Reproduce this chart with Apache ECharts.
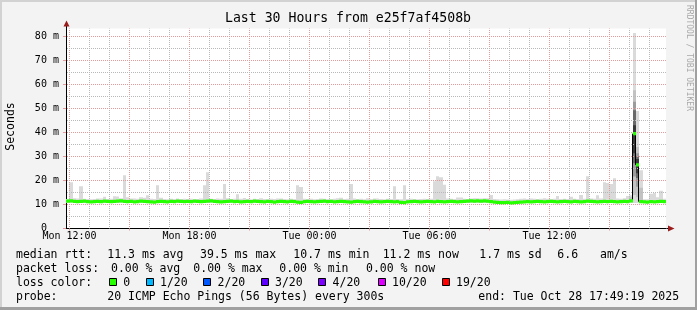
<!DOCTYPE html>
<html><head><meta charset="utf-8">
<script src="https://cdn.jsdelivr.net/npm/echarts@6/dist/echarts.min.js"></script>
<style>html,body{margin:0;padding:0;background:#f3f3f3;}#c{width:697px;height:310px;}</style>
</head><body><div id="c"></div>
<script>
const TITLE = 'Last 30 Hours from e25f7af4508b';
const Y_TITLE = 'Seconds';
const WATERMARK = 'RRDTOOL / TOBI OETIKER';
const START_MIN = 709.3167;           // Mon 11:49:19, minutes after Mon 00:00
const SPAN_MIN = 1800;                // 30 hours
const BIN_MIN = 10;                   // one value per 10 minutes
const Y_MAX = 83.333;
const X_LABEL_VALUES = [720, 1080, 1440, 1800, 2160];
const X_LABELS = ['Mon 12:00', 'Mon 18:00', 'Tue 00:00', 'Tue 06:00', 'Tue 12:00'];
const Y_TICKS = [0, 10, 20, 30, 40, 50, 60, 70, 80];
const Y_MINOR = [5, 15, 25, 35, 45, 55, 65, 75];

// median rtt (ms), one per 10-minute bin, 180 bins
const MEDIAN_MS = [
  11.4, 11.5, 11.3, 11.2, 11.3, 11.4, 11.2, 11.1, 11.2, 11.3, 11.2, 11.4, 11.3, 11.2, 11.3, 11.4, 11.5, 11.3,
  11.2, 11.3, 11.1, 11.2, 11.4, 11.3, 11.2, 11.1, 11.0, 11.2, 11.3, 11.2, 11.1, 11.3, 11.2, 11.4, 11.3, 11.2,
  11.3, 11.2, 11.4, 11.3, 11.2, 11.3, 11.4, 11.5, 11.3, 11.2, 11.1, 11.2, 11.3, 11.4, 11.2, 11.3, 11.1, 11.2,
  11.3, 11.2, 11.4, 11.3, 11.2, 11.1, 11.3, 11.2, 11.0, 11.2, 11.3, 11.2, 11.1, 11.3, 11.2, 11.0, 10.9, 11.2,
  11.3, 11.2, 11.1, 11.2, 11.3, 11.4, 11.2, 11.3, 11.1, 11.2, 11.3, 11.2, 11.1, 11.0, 11.2, 11.3, 11.2, 11.1,
  11.0, 11.1, 11.3, 11.2, 11.1, 11.2, 11.3, 11.2, 11.1, 11.2, 10.9, 10.8, 11.1, 11.2, 11.3, 11.2, 11.1, 11.2,
  11.3, 11.2, 11.1, 11.3, 11.2, 11.1, 11.2, 11.3, 11.2, 11.1, 11.2, 11.3, 11.4, 11.5, 11.4, 11.5, 11.4, 11.5,
  11.4, 11.2, 11.0, 10.9, 10.8, 10.8, 10.9, 10.7, 10.8, 10.9, 11.0, 11.1, 11.2, 11.1, 11.2, 11.3, 11.2, 11.1,
  11.2, 11.3, 11.2, 11.1, 11.2, 11.3, 11.2, 11.1, 11.3, 11.2, 11.1, 11.2, 11.4, 11.3, 11.2, 11.1, 11.2, 11.3,
  11.2, 11.3, 11.2, 11.1, 11.2, 11.3, 11.2, 11.5, 39.5, 26.5, 11.2, 11.1, 11.0, 11.2, 11.1, 11.2, 11.3, 11.2
];
// highest ping (ms) in each bin (top of the smoke)
const SMOKE_MAX_MS = [
  12.3, 19.3, 12.6, 12.5, 17.6, 12.4, 12.3, 12.2, 12.3, 12.5, 12.5, 13.2, 12.3, 12.4, 13.4, 13.3, 12.6, 22.2,
  13.0, 12.5, 12.5, 12.4, 13.0, 12.8, 13.9, 12.4, 12.3, 18.0, 12.8, 12.3, 12.2, 12.4, 12.3, 12.5, 12.3, 12.4,
  12.3, 12.4, 12.2, 12.3, 12.5, 18.0, 23.4, 12.4, 12.3, 12.5, 12.4, 18.5, 12.6, 12.3, 12.4, 14.3, 12.4, 12.7,
  12.3, 12.2, 12.4, 12.3, 12.6, 12.3, 12.2, 12.4, 12.3, 12.5, 12.5, 12.3, 12.2, 12.4, 12.3, 18.0, 17.3, 12.4,
  12.3, 12.4, 12.2, 12.3, 12.5, 12.4, 12.3, 12.2, 12.4, 12.6, 12.8, 12.3, 12.4, 18.5, 12.5, 12.3, 12.4, 12.2,
  12.6, 12.3, 12.5, 12.5, 12.3, 12.2, 12.4, 12.3, 17.6, 12.3, 12.2, 18.0, 12.3, 12.4, 12.3, 12.2, 12.3, 12.4,
  12.3, 12.4, 19.7, 21.8, 21.4, 18.2, 12.5, 12.4, 12.3, 12.9, 12.9, 12.4, 12.3, 12.5, 12.6, 12.6, 12.5, 12.6,
  12.6, 14.0, 12.3, 12.2, 12.1, 12.2, 12.1, 12.0, 12.1, 12.2, 12.4, 12.5, 12.3, 12.5, 12.4, 12.3, 12.4, 12.6,
  12.4, 12.3, 12.4, 13.5, 12.3, 12.4, 12.3, 13.2, 12.4, 12.3, 14.0, 12.4, 21.8, 12.5, 12.4, 13.9, 12.5, 19.3,
  19.0, 18.5, 20.9, 12.5, 12.4, 12.6, 13.5, 13.9, 81.5, 49.0, 24.3, 12.2, 12.2, 14.5, 14.8, 13.0, 15.7, 12.4
];
const SMOKE_FLOOR_MS = 10.6;
// denser smoke layers (outer -> inner) for the bins around the spike
const SMOKE_LAYER_BINS = [169, 170, 171, 172];
const SMOKE_LAYER_BANDS = [
  [[11.2, 13.0]],
  [[14.0, 57.6], [21.7, 52.8], [27.2, 49.3], [31.4, 43.0]],
  [[13.0, 34.0], [17.4, 31.4], [21.0, 30.0], [23.0, 29.0]],
  [[11.5, 17.0]]
];
const LAYER_COLORS = ['#c2c2c2', '#9c9c9c', '#6a6a6a', '#383838'];

const RTT_STATS = ['11.3 ms avg', '39.5 ms max', '10.7 ms min', '11.2 ms now', '1.7 ms sd', '6.6', 'am/s'];
const LOSS_STATS = ['0.00 % avg', '0.00 % max', '0.00 % min', '0.00 % now'];
const LOSS_LABELS = ['0', '1/20', '2/20', '3/20', '4/20', '10/20', '19/20'];
const LOSS_COLORS = ['#26ff00', '#00b8ff', '#0059ff', '#5e00ff', '#7e00ff', '#dd00ff', '#ff0000'];
const PROBE_TEXT = '20 ICMP Echo Pings (56 Bytes) every 300s';
const END_TEXT = 'end: Tue Oct 28 17:49:19 2025';

// ---- layout / style ----
const FONT = 'DejaVu Sans Mono';
const GL = 65.94, GT = 28.5, GW = 600, GH = 200;
const GRID_GRAY = '#b8b8b8', GRID_RED = '#e39a9a', ARROW = '#9a1c1c';
const RTT_X = [107.3, 200, 293.3, 382.7, 479.3, 557.3, 600];
const LOSS_X = [111, 193.3, 279.3, 366];
const BOX_X = [109, 145.7, 203.3, 260.7, 318.3, 377.7, 441.7];
const ROW_Y = [254.8, 268.9, 282.8, 296.9];
const LEG_FS = 11.5;

// ---- derived tables ----
const smokeData = SMOKE_MAX_MS.map((hi, i) => [START_MIN + i * BIN_MIN, SMOKE_FLOOR_MS, hi]);
const layerData = [];
SMOKE_LAYER_BINS.forEach((b, k) => SMOKE_LAYER_BANDS[k].forEach((band, L) =>
  layerData.push([START_MIN + b * BIN_MIN, band[0], band[1], L])));
const medianData = MEDIAN_MS.map((m, i) => [START_MIN + i * BIN_MIN, m]);
const stepData = MEDIAN_MS.slice(1).map((m, i) => [START_MIN + (i + 1) * BIN_MIN, MEDIAN_MS[i], m]);

const hourLines = [];
for (let t = 720; t < START_MIN + SPAN_MIN; t += 60) hourLines.push(t);
const redHours = hourLines.filter(t => t % 180 === 0);

function rectRender(getFill) {
  return function (params, api) {
    const t = api.value(0), lo = api.value(1), hi = api.value(2);
    const a = api.coord([t, lo]), b = api.coord([t + BIN_MIN, hi]);
    const x0 = Math.round(a[0]), x1 = Math.round(b[0]);
    return { type: 'rect', shape: { x: x0, y: b[1], width: x1 - x0, height: a[1] - b[1] },
      style: { fill: getFill(api) } };
  };
}

const V_OFF = 0.5, H_OFF = GL % 1;
const markData = [];
hourLines.forEach(t => markData.push({ xAxis: t, lineStyle: { color: t % 180 === 0 ? GRID_RED : GRID_GRAY, type: [1, 1], dashOffset: V_OFF, width: 1 } }));
Y_MINOR.forEach(v => markData.push({ yAxis: v, lineStyle: { color: GRID_GRAY, type: [1, 1], dashOffset: H_OFF, width: 1 } }));
Y_TICKS.slice(1).forEach(v => markData.push({ yAxis: v, lineStyle: { color: GRID_RED, type: [1, 1], dashOffset: H_OFF, width: 1 } }));

function txt(x, y, s, extra) {
  return Object.assign({ type: 'text', x: x, y: y, z: 50,
    style: Object.assign({ text: s, fontFamily: FONT, fontSize: LEG_FS, fill: '#000', verticalAlign: 'middle', align: 'left' }, extra || {}) });
}
const graphic = [
  { type: 'rect', shape: { x: 0, y: 0, width: 697, height: 2 }, style: { fill: '#d2d2d2' }, z: 40 },
  { type: 'rect', shape: { x: 0, y: 0, width: 2, height: 310 }, style: { fill: '#d2d2d2' }, z: 40 },
  { type: 'rect', shape: { x: 0, y: 307, width: 697, height: 3 }, style: { fill: '#a0a0a0' }, z: 41 },
  { type: 'rect', shape: { x: 695, y: 0, width: 2, height: 310 }, style: { fill: '#a0a0a0' }, z: 41 },
  txt(348, 19, TITLE, { fontSize: 13.2, align: 'center' }),
  { type: 'text', x: 11, y: 126.5, rotation: Math.PI / 2, z: 50,
    style: { text: Y_TITLE, fontFamily: FONT, fontSize: 11.5, fill: '#000', align: 'center', verticalAlign: 'middle' } },
  { type: 'text', x: 689, y: 58, rotation: -Math.PI / 2, z: 50,
    style: { text: WATERMARK, fontFamily: FONT, fontSize: 8, fill: '#a8a8a8', align: 'center', verticalAlign: 'middle' } },
  // axis extensions and arrows
  { type: 'line', shape: { x1: 666.5, y1: 228.5, x2: 669, y2: 228.5 }, style: { stroke: '#000', lineWidth: 1 }, z: 45 },
  { type: 'polygon', shape: { points: [[668, 225.5], [668, 231.5], [674.5, 228.5]] }, style: { fill: ARROW }, z: 46 },
  { type: 'line', shape: { x1: 66.5, y1: 28.5, x2: 66.5, y2: 25 }, style: { stroke: '#000', lineWidth: 1 }, z: 45 },
  { type: 'polygon', shape: { points: [[63.5, 26.5], [69.5, 26.5], [66.5, 20.5]] }, style: { fill: ARROW }, z: 46 },
  // legend
  txt(16, ROW_Y[0], 'median rtt:'),
  txt(16, ROW_Y[1], 'packet loss:'),
  txt(16, ROW_Y[2], 'loss color:'),
  txt(16, ROW_Y[3], 'probe:'),
  txt(107.3, ROW_Y[3], PROBE_TEXT),
  txt(478.3, ROW_Y[3], END_TEXT)
];
RTT_STATS.forEach((s, i) => graphic.push(txt(RTT_X[i], ROW_Y[0], s)));
LOSS_STATS.forEach((s, i) => graphic.push(txt(LOSS_X[i], ROW_Y[1], s)));
LOSS_LABELS.forEach((s, i) => {
  graphic.push({ type: 'rect', z: 50, shape: { x: Math.round(BOX_X[i]) + 0.5, y: 278.5, width: 7, height: 7 },
    style: { fill: LOSS_COLORS[i], stroke: '#000', lineWidth: 1 } });
  graphic.push(txt(BOX_X[i] + 14.3, ROW_Y[2], s));
});

const chart = echarts.init(document.getElementById('c'), null, { renderer: 'canvas' });
chart.setOption({
  animation: false,
  backgroundColor: '#f3f3f3',
  textStyle: { fontFamily: FONT },
  grid: { left: GL, top: GT, width: GW, height: GH, show: true, backgroundColor: '#ffffff', borderWidth: 0 },
  xAxis: {
    type: 'value', min: START_MIN, max: START_MIN + SPAN_MIN,
    splitLine: { show: false },
    axisLine: { show: true, lineStyle: { color: '#000', width: 1 } },
    axisTick: { show: true, customValues: redHours, length: 2, lineStyle: { color: GRID_RED } },
    axisLabel: {
      customValues: X_LABEL_VALUES, fontSize: 10, color: '#000', margin: 3, fontFamily: FONT,
      formatter: v => { const i = X_LABEL_VALUES.findIndex(x => Math.abs(x - v) < 0.01); return i >= 0 ? X_LABELS[i] : ''; }
    }
  },
  yAxis: {
    type: 'value', min: 0, max: Y_MAX,
    splitLine: { show: false },
    axisLine: { show: true, lineStyle: { color: '#000', width: 1 } },
    axisTick: { show: true, customValues: Y_TICKS, length: 3, lineStyle: { color: GRID_RED } },
    axisLabel: {
      customValues: Y_TICKS, fontSize: 10, color: '#000', margin: 7, fontFamily: FONT,
      formatter: v => (Math.abs(v) < 0.01 ? '0\u00a0\u00a0' : Math.round(v) + ' m')
    }
  },
  graphic: graphic,
  series: [
    { type: 'line', data: [], z: 1, silent: true,
      markLine: { silent: true, symbol: ['none', 'none'], label: { show: false }, animation: false, data: markData } },
    { type: 'custom', z: 3, silent: true, clip: true, data: smokeData, encode: { x: 0, y: [1, 2] },
      renderItem: rectRender(() => '#dadada') },
    { type: 'custom', z: 4, silent: true, clip: true, data: layerData, encode: { x: 0, y: [1, 2] },
      renderItem: rectRender(api => LAYER_COLORS[api.value(3)]) },
    { type: 'custom', z: 5, silent: true, clip: true, data: stepData, encode: { x: 0, y: [1, 2] },
      renderItem: function (params, api) {
        const t = api.value(0);
        const a = api.coord([t, api.value(1)]), b = api.coord([t, api.value(2)]);
        const x = Math.round(a[0]) - 0.5;
        return { type: 'line', shape: { x1: x, y1: a[1], x2: x, y2: b[1] }, style: { stroke: '#000', lineWidth: 1 } };
      } },
    { type: 'custom', z: 6, silent: true, clip: true, data: medianData, encode: { x: 0, y: 1 },
      renderItem: function (params, api) {
        const t = api.value(0), m = api.value(1);
        const a = api.coord([t, m]), b = api.coord([t + BIN_MIN, m]);
        const x0 = Math.round(a[0]), x1 = Math.round(b[0]);
        return { type: 'rect', shape: { x: x0, y: a[1] - 1.65, width: x1 - x0, height: 3.3 }, style: { fill: LOSS_COLORS[0] } };
      } }
  ]
});
</script></body></html>
